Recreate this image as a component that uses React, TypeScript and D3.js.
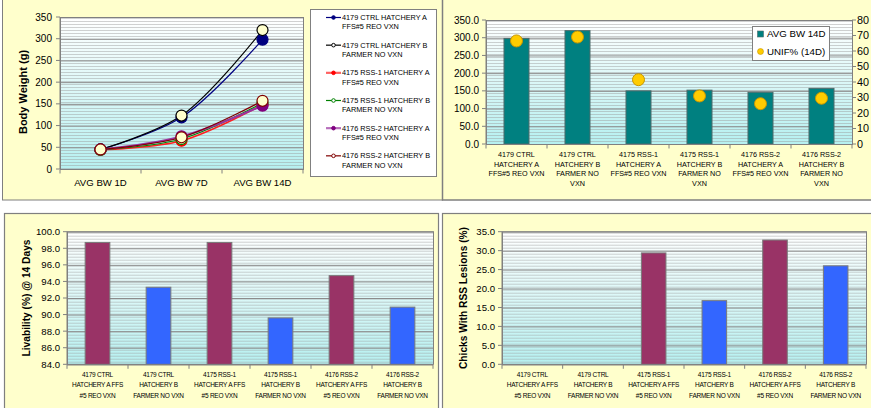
import React from 'react';
import * as d3 from 'd3';

// ---------- DATA ----------
const bwDays = ['AVG BW 1D', 'AVG BW 7D', 'AVG BW 14D'];
const bwSeriesNames = [
  ['4179 CTRL HATCHERY A', 'FFS#5 REO VXN'],
  ['4179 CTRL HATCHERY B', 'FARMER  NO VXN'],
  ['4175 RSS-1 HATCHERY A', 'FFS#5 REO VXN'],
  ['4175 RSS-1 HATCHERY B', 'FARMER NO VXN'],
  ['4176 RSS-2 HATCHERY A', 'FFS#5 REO VXN'],
  ['4176 RSS-2 HATCHERY B', 'FARMER NO VXN'],
];
const bwCtrlA = [45, 119, 298];
const bwCtrlB = [45, 123, 320];
const bwRss1A = [44, 65, 148];
const bwRss1B = [44, 69, 152];
const bwRss2A = [45, 75, 146];
const bwRss2B = [45, 73, 157];
const bwTicks = [0, 50, 100, 150, 200, 250, 300, 350];

const groupLabelsTop = [
  ['4179 CTRL', 'HATCHERY A', 'FFS#5 REO VXN'],
  ['4179 CTRL', 'HATCHERY B', 'FARMER  NO', 'VXN'],
  ['4175 RSS-1', 'HATCHERY A', 'FFS#5 REO VXN'],
  ['4175 RSS-1', 'HATCHERY B', 'FARMER NO', 'VXN'],
  ['4176 RSS-2', 'HATCHERY A', 'FFS#5 REO VXN'],
  ['4176 RSS-2', 'HATCHERY B', 'FARMER NO', 'VXN'],
];
const groupLabelsBottom = [
  ['4179 CTRL', 'HATCHERY A FFS', '#5 REO VXN'],
  ['4179 CTRL', 'HATCHERY B', 'FARMER NO VXN'],
  ['4175 RSS-1', 'HATCHERY A FFS', '#5 REO VXN'],
  ['4175 RSS-1', 'HATCHERY B', 'FARMER NO VXN'],
  ['4176 RSS-2', 'HATCHERY A FFS', '#5 REO VXN'],
  ['4176 RSS-2', 'HATCHERY B', 'FARMER NO VXN'],
];
const groupKeys = ['g1', 'g2', 'g3', 'g4', 'g5', 'g6'];
const avgBw14 = [298, 320, 150, 152, 146, 157];
const unif14 = [66.5, 69, 41.5, 31, 26, 29.5];
const bw14Ticks = [0, 50, 100, 150, 200, 250, 300, 350];
const unifTicks = [0, 10, 20, 30, 40, 50, 60, 70, 80];

const livability = [98.7, 93.3, 98.7, 89.6, 94.7, 90.9];
const livTicks = [84, 86, 88, 90, 92, 94, 96, 98, 100];

const rssLesions = [0, 0, 29.4, 16.8, 32.8, 26.0];
const rssTicks = [0, 5, 10, 15, 20, 25, 30, 35];

// ---------- STYLE ----------
const FONT = '"Liberation Sans", Arial, sans-serif';
const PANEL = '#FFFFCC';
const GRID = '#8c8c8c';
const AXIS = '#808080';
const seriesStyle = [
  { line: '#000080', marker: '#000080', open: false, w: 1.2 },
  { line: '#000000', marker: '#000000', open: true, w: 1.2 },
  { line: '#FF2020', marker: '#FF0000', open: false, w: 1.6 },
  { line: '#008000', marker: '#008000', open: true, w: 1.2 },
  { line: '#9933A0', marker: '#800080', open: false, w: 2 },
  { line: '#800000', marker: '#800000', open: true, w: 1.2 },
];
const barColorsAB = ['#993366', '#3366FF'];

function PlotBg({ id, x0, y0, w, h }: any) {
  return (
    <g>
      <defs>
        <linearGradient id={`grad${id}`} x1="0" y1="0" x2="0" y2="1">
          <stop offset="0" stopColor="#ffffff" />
          <stop offset="1" stopColor="#b6f0f0" />
        </linearGradient>
        <pattern id={`pat${id}`} width={6} height={3} patternUnits="userSpaceOnUse" y={y0}>
          <rect x={0} y={1} width={6} height={1} fill="#9a9a9a" opacity={0.45} />
        </pattern>
      </defs>
      <rect x={x0} y={y0} width={w} height={h} fill={`url(#grad${id})`} />
      <rect x={x0} y={y0} width={w} height={h} fill={`url(#pat${id})`} />
    </g>
  );
}

function YAxisLeft({ scale, ticks, x, fmt, fontSize, labelGap = 8 }: any) {
  return (
    <g>
      {ticks.map((t: number) => (
        <g key={t}>
          <line x1={x - 4} x2={x} y1={scale(t)} y2={scale(t)} stroke={AXIS} />
          <text x={x - labelGap} y={scale(t)} dy="0.35em" textAnchor="end" fontSize={fontSize} fontFamily={FONT} fill="#000">
            {fmt(t)}
          </text>
        </g>
      ))}
      <line x1={x} x2={x} y1={scale(ticks[ticks.length - 1])} y2={scale(ticks[0])} stroke={AXIS} />
    </g>
  );
}

function Gridlines({ scale, ticks, x0, x1 }: any) {
  return (
    <g>
      {ticks.map((t: number) => (
        <line key={t} x1={x0} x2={x1} y1={scale(t) + 0.5} y2={scale(t) + 0.5} stroke={GRID} strokeWidth={1} />
      ))}
    </g>
  );
}

function XCatAxis({ band, y, keys }: any) {
  const r = band.range();
  const edges = [r[0], ...keys.map((k: string) => band(k) + band.step())];
  return (
    <g>
      <line x1={r[0]} x2={r[1]} y1={y} y2={y} stroke={AXIS} />
      {edges.map((e: number, i: number) => (
        <line key={i} x1={e} x2={e} y1={y} y2={y + 4} stroke={AXIS} />
      ))}
    </g>
  );
}

function TopLeft() {
  const x = d3.scaleBand().domain(bwDays).range([60, 303]);
  const y = d3.scaleLinear().domain([0, 350]).range([169, 17]);
  const cx = (d: string) => (x(d) as number) + x.bandwidth() / 2;
  const series = [bwCtrlA, bwCtrlB, bwRss1A, bwRss1B, bwRss2A, bwRss2B];
  const line = d3
    .line<number>()
    .x((_, i) => cx(bwDays[i]))
    .y((v) => y(v))
    .curve(d3.curveCatmullRom.alpha(0.5));
  const legendY = d3.scaleBand().domain(bwSeriesNames.map((n) => n[0])).range([9, 175]);
  return (
    <g>
      <rect x={2.5} y={-1} width={440} height={201} fill={PANEL} stroke="#7f7f7f" />
      <PlotBg id="tl" x0={60} y0={17} w={243} h={152} />
      <Gridlines scale={y} ticks={bwTicks} x0={60} x1={303} />
      <rect x={60.5} y={17.5} width={243} height={152} fill="none" stroke={AXIS} />
      <YAxisLeft scale={y} ticks={bwTicks} x={60} fmt={(t: number) => `${t}`} fontSize={10} labelGap={8} />
      <XCatAxis band={x} y={169.5} keys={bwDays} />
      {bwDays.map((d) => (
        <text key={d} x={cx(d)} y={186} textAnchor="middle" fontSize={9.6} fontFamily={FONT}>
          {d}
        </text>
      ))}
      <text transform={`translate(27,92) rotate(-90)`} textAnchor="middle" fontSize={11} fontWeight="bold" fontFamily={FONT}>
        Body Weight (g)
      </text>
      {series.map((s, i) => (
        <path key={`l${i}`} d={line(s) as string} fill="none" stroke={seriesStyle[i].line} strokeWidth={seriesStyle[i].w} />
      ))}
      {series.map((s, i) =>
        s.map((v, j) => (
          <circle
            key={`m${i}-${j}`}
            cx={cx(bwDays[j])}
            cy={y(v)}
            r={5.5}
            fill={seriesStyle[i].open ? '#FFFFCC' : seriesStyle[i].marker}
            stroke={seriesStyle[i].marker}
            strokeWidth={1.2}
          />
        ))
      )}
      {/* legend */}
      <rect x={310.5} y={9.5} width={126} height={167} fill="#ffffff" stroke={AXIS} />
      {bwSeriesNames.map((n, i) => {
        const ly = (legendY(n[0]) as number) + 8.5;
        const st = seriesStyle[i];
        return (
          <g key={n[0] + i}>
            <line x1={326} x2={341} y1={ly} y2={ly} stroke={st.line} strokeWidth={i === 2 || i === 4 ? 2.2 : 1.2} opacity={i === 2 || i === 4 ? 0.7 : 1} />
            <circle cx={333.5} cy={ly} r={1.8} fill={st.open ? '#fff' : st.marker} stroke={st.marker} strokeWidth={1} />
            <text x={342} y={ly} dy="0.35em" fontSize={7.3} fontFamily={FONT}>
              {n[0]}
            </text>
            <text x={342} y={ly + 9.4} dy="0.35em" fontSize={7.3} fontFamily={FONT}>
              {n[1]}
            </text>
          </g>
        );
      })}
    </g>
  );
}

function CatLabels({ band, keys, labels, y0, lineH, fontSize, spacing = 0 }: any) {
  return (
    <g>
      {keys.map((k: string, i: number) => (
        <text key={k} textAnchor="middle" fontSize={fontSize} fontFamily={FONT} letterSpacing={spacing}>
          {labels[i].map((l: string, j: number) => (
            <tspan key={j} x={(band(k) as number) + band.step() / 2} y={y0 + j * lineH}>
              {l}
            </tspan>
          ))}
        </text>
      ))}
    </g>
  );
}

function TopRight() {
  const xs = d3.scaleBand().domain(groupKeys).range([486, 852]);
  const xb = d3.scaleBand().domain(groupKeys).range([486, 852]).paddingInner(0.59).paddingOuter(0.295);
  const y = d3.scaleLinear().domain([0, 350]).range([144, 20]);
  const y2 = d3.scaleLinear().domain([0, 80]).range([144, 20]);
  return (
    <g>
      <rect x={442.5} y={-1} width={440} height={201} fill={PANEL} stroke="#7f7f7f" strokeWidth={1.5} />
      <PlotBg id="tr" x0={486} y0={20} w={366} h={124} />
      <Gridlines scale={y} ticks={bw14Ticks} x0={486} x1={852} />
      <rect x={486.5} y={20.5} width={366} height={124} fill="none" stroke={AXIS} />
      {groupKeys.map((k, i) => (
        <rect key={k} x={xb(k)} y={y(avgBw14[i])} width={xb.bandwidth()} height={y(0) - y(avgBw14[i])} fill="#008080" stroke="#4d6b6b" strokeWidth={1} />
      ))}
      {groupKeys.map((k, i) => (
        <circle key={k} cx={(xs(k) as number) + xs.bandwidth() / 2} cy={y2(unif14[i])} r={6} fill="#FFCC00" stroke="#c89600" strokeWidth={1} />
      ))}
      <YAxisLeft scale={y} ticks={bw14Ticks} x={486} fmt={(t: number) => t.toFixed(1)} fontSize={10} labelGap={7} />
      {unifTicks.map((t) => (
        <g key={t}>
          <line x1={852} x2={856} y1={y2(t)} y2={y2(t)} stroke={AXIS} />
          <text x={857} y={y2(t)} dy="0.35em" fontSize={10.8} fontFamily={FONT}>
            {t}
          </text>
        </g>
      ))}
      <line x1={852.5} x2={852.5} y1={20} y2={144} stroke={AXIS} />
      <XCatAxis band={xs} y={144.5} keys={groupKeys} />
      <CatLabels band={xs} keys={groupKeys} labels={groupLabelsTop} y0={157} lineH={9.7} fontSize={7.2} />
      {/* legend */}
      <rect x={752.5} y={26.5} width={77} height={34} fill="#ffffff" stroke={AXIS} />
      <rect x={757.5} y={31} width={6} height={6} fill="#008080" stroke="#4d6b6b" strokeWidth={0.6} />
      <text x={767} y={34} dy="0.35em" fontSize={9.7} fontFamily={FONT}>
        AVG BW 14D
      </text>
      <circle cx={760.5} cy={51.5} r={3} fill="#FFCC00" stroke="#c89600" strokeWidth={0.6} />
      <text x={767} y={51.5} dy="0.35em" fontSize={9.7} fontFamily={FONT}>
        UNIF% (14D)
      </text>
    </g>
  );
}

function BottomBars({ id, px0, px1, data, ticks, domain, title, titleX, panelX, panelW }: any) {
  const xs = d3.scaleBand().domain(groupKeys).range([px0, px1]);
  const xb = d3.scaleBand().domain(groupKeys).range([px0, px1]).paddingInner(0.595).paddingOuter(0.2975);
  const y = d3.scaleLinear().domain(domain).range([364.3, 231.7]);
  return (
    <g>
      <rect x={panelX} y={213.5} width={panelW} height={200} fill={PANEL} stroke="#7f7f7f" strokeWidth={1.2} />
      <PlotBg id={id} x0={px0} y0={231.7} w={px1 - px0} h={132.6} />
      <Gridlines scale={y} ticks={ticks} x0={px0} x1={px1} />
      <rect x={px0 + 0.5} y={231.7} width={px1 - px0} height={132.6} fill="none" stroke={AXIS} />
      {groupKeys.map((k, i) =>
        data[i] > domain[0] ? (
          <rect key={k} x={xb(k)} y={y(data[i])} width={xb.bandwidth()} height={y(domain[0]) - y(data[i])} fill={barColorsAB[i % 2]} stroke="#7a7a7a" strokeWidth={1} />
        ) : null
      )}
      <YAxisLeft scale={y} ticks={ticks} x={px0} fmt={(t: number) => t.toFixed(1)} fontSize={9.6} labelGap={7} />
      <XCatAxis band={xs} y={364.8} keys={groupKeys} />
      <CatLabels band={xs} keys={groupKeys} labels={groupLabelsBottom} y0={376.5} lineH={10.5} fontSize={6.5} spacing={-0.25} />
      <text transform={`translate(${titleX},298) rotate(-90)`} textAnchor="middle" fontSize={10.2} fontWeight="bold" fontFamily={FONT}>
        {title}
      </text>
    </g>
  );
}

export default function App() {
  return (
    <svg width={871} height={408} style={{ position: 'absolute', left: 0, top: 0, background: '#ffffff' }}>
      <TopLeft />
      <TopRight />
      <BottomBars id="bl" px0={67} px1={433} data={livability} ticks={livTicks} domain={[84, 100]} title="Livability (%) @ 14 Days" titleX={30} panelX={4.5} panelW={434} />
      <BottomBars id="br" px0={502} px1={866} data={rssLesions} ticks={rssTicks} domain={[0, 35]} title="Chicks With RSS Lesions (%)" titleX={467} panelX={442.5} panelW={440} />
    </svg>
  );
}
